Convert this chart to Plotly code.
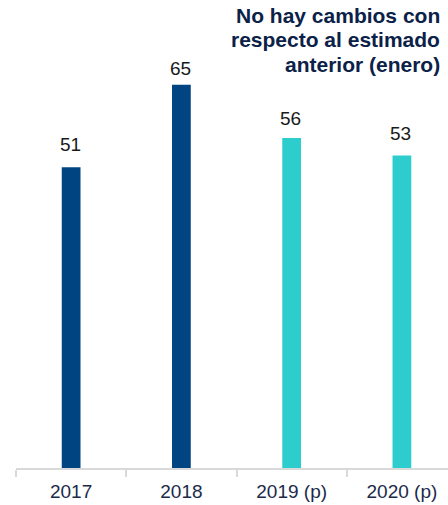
import plotly.graph_objects as go

# Series data
years = ["2017", "2018", "2019 (p)", "2020 (p)"]
values = [51, 65, 56, 53]
bar_colors = ["#004481", "#004481", "#2DCCCD", "#2DCCCD"]

# Vertical offset (px) of each value label above its bar
label_offsets = [23, 16, 19, 22]

title_lines = ["No hay cambios con", "respecto al estimado", "anterior (enero)"]

fig = go.Figure()
fig.add_trace(go.Bar(
    x=years,
    y=values,
    marker=dict(color=bar_colors, line=dict(width=0)),
    width=0.17,
    hoverinfo="skip",
))

# Value labels: positioned by category index so numeric-looking names are not read as numbers
for i, (v, off) in enumerate(zip(values, label_offsets)):
    fig.add_annotation(
        x=i, y=v, text=str(v), showarrow=False,
        xref="x", yref="y", yanchor="middle", yshift=off, xshift=-1,
        font=dict(family="Liberation Sans, Arial", size=19, color="#1a1a1a"),
    )

# Right-aligned bold note, one annotation per line for tight line spacing
for k, line in enumerate(title_lines):
    fig.add_annotation(
        x=1, y=1, xref="paper", yref="paper",
        xanchor="right", yanchor="middle", align="right",
        text="<b>" + line + "</b>",
        showarrow=False, xshift=-6, yshift=50 - 15 - 24.5 * k,
        font=dict(family="Liberation Sans, Arial", size=21, color="#0B2147"),
    )

fig.update_layout(
    width=448, height=505,
    margin=dict(l=16, r=0, t=50, b=37),
    paper_bgcolor="white", plot_bgcolor="white",
    showlegend=False,
    xaxis=dict(
        type="category",
        range=[-0.5, 3.418],
        showline=True, linecolor="#D9D9D9", linewidth=2,
        ticks="outside", tickson="boundaries", ticklen=7, tickcolor="#D9D9D9", tickwidth=2,
        ticklabelstandoff=5,
        tickfont=dict(family="Liberation Sans, Arial", size=19, color="#1B2A4A"),
        showgrid=False, zeroline=False, fixedrange=True,
    ),
    yaxis=dict(
        range=[0, 418 / 5.895],
        visible=False, showgrid=False, zeroline=False, fixedrange=True,
    ),
)

fig.write_html("out.html")
